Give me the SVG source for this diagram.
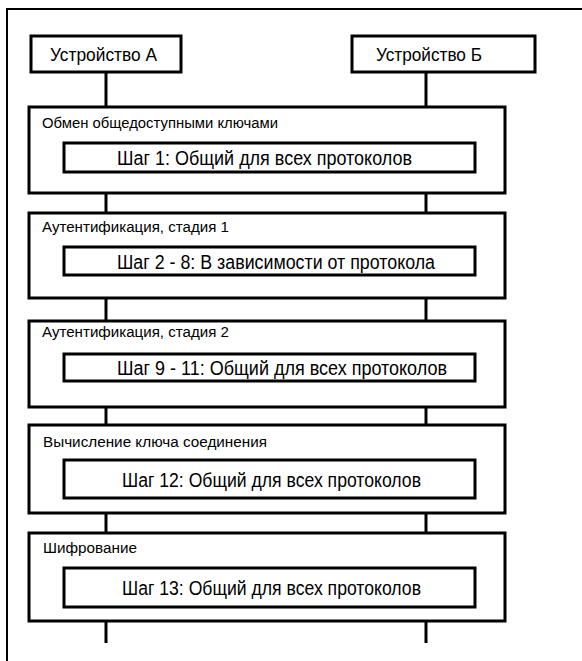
<svg xmlns="http://www.w3.org/2000/svg" width="582" height="661" viewBox="0 0 582 661">
  <style>
    .box { fill: #fff; stroke: #000; stroke-width: 3; }
    .frame { fill: none; stroke: #000; stroke-width: 2; }
    .life { stroke: #000; stroke-width: 3; }
    .dev { font-family: "Liberation Sans", Arial, sans-serif; font-size: 19px; fill: #000; }
    .sec { font-family: "Liberation Sans", Arial, sans-serif; font-size: 15.5px; fill: #000; }
    .step { font-family: "Liberation Sans", Arial, sans-serif; font-size: 20px; fill: #000; }
  </style>
  <rect width="582" height="661" fill="#fff"/>
  <path class="frame" d="M7,661 V9 H582"/>

  <g id="connectors">
    <line class="life" x1="106" y1="72" x2="106" y2="107"/>
    <line class="life" x1="426" y1="72" x2="426" y2="107"/>
    <line class="life" x1="106" y1="172" x2="106" y2="213"/>
    <line class="life" x1="426" y1="172" x2="426" y2="213"/>
    <line class="life" x1="106" y1="275" x2="106" y2="321"/>
    <line class="life" x1="426" y1="275" x2="426" y2="321"/>
    <line class="life" x1="106" y1="381" x2="106" y2="425"/>
    <line class="life" x1="426" y1="381" x2="426" y2="425"/>
    <line class="life" x1="106" y1="498" x2="106" y2="533"/>
    <line class="life" x1="426" y1="498" x2="426" y2="533"/>
    <line class="life" x1="106" y1="607" x2="106" y2="643"/>
    <line class="life" x1="426" y1="607" x2="426" y2="643"/>
  </g>

  <g id="device-a">
    <rect class="box" x="31" y="36" width="150" height="36"/>
    <text class="dev" x="50" y="61" textLength="107" lengthAdjust="spacingAndGlyphs">Устройство А</text>
  </g>
  <g id="device-b">
    <rect class="box" x="352" y="36" width="183" height="36"/>
    <text class="dev" x="376" y="61" textLength="106" lengthAdjust="spacingAndGlyphs">Устройство Б</text>
  </g>

  <g id="stage-1">
    <rect class="box" x="29" y="107" width="476" height="86"/>
    <text class="sec" x="42" y="128" textLength="236" lengthAdjust="spacingAndGlyphs">Обмен общедоступными ключами</text>
    <rect class="box" x="64" y="143" width="411" height="29"/>
    <text class="step" x="117" y="165" textLength="295" lengthAdjust="spacingAndGlyphs">Шаг 1: Общий для всех протоколов</text>
  </g>

  <g id="stage-2">
    <rect class="box" x="29" y="213" width="476" height="85"/>
    <text class="sec" x="42" y="232" textLength="187" lengthAdjust="spacingAndGlyphs">Аутентификация, стадия 1</text>
    <rect class="box" x="64" y="247" width="411" height="28"/>
    <text class="step" x="117" y="269" textLength="318" lengthAdjust="spacingAndGlyphs">Шаг 2 - 8: В зависимости от протокола</text>
  </g>

  <g id="stage-3">
    <rect class="box" x="29" y="321" width="476" height="86"/>
    <text class="sec" x="42" y="337" textLength="187" lengthAdjust="spacingAndGlyphs">Аутентификация, стадия 2</text>
    <rect class="box" x="64" y="354" width="411" height="27"/>
    <text class="step" x="117" y="375" textLength="330" lengthAdjust="spacingAndGlyphs">Шаг 9 - 11: Общий для всех протоколов</text>
  </g>

  <g id="stage-4">
    <rect class="box" x="29" y="425" width="476" height="88"/>
    <text class="sec" x="43" y="447" textLength="224" lengthAdjust="spacingAndGlyphs">Вычисление ключа соединения</text>
    <rect class="box" x="64" y="460" width="411" height="38"/>
    <text class="step" x="122" y="487" textLength="299" lengthAdjust="spacingAndGlyphs">Шаг 12: Общий для всех протоколов</text>
  </g>

  <g id="stage-5">
    <rect class="box" x="29" y="533" width="476" height="88"/>
    <text class="sec" x="43" y="553" textLength="94" lengthAdjust="spacingAndGlyphs">Шифрование</text>
    <rect class="box" x="64" y="568" width="411" height="39"/>
    <text class="step" x="122" y="595" textLength="299" lengthAdjust="spacingAndGlyphs">Шаг 13: Общий для всех протоколов</text>
  </g>
</svg>
